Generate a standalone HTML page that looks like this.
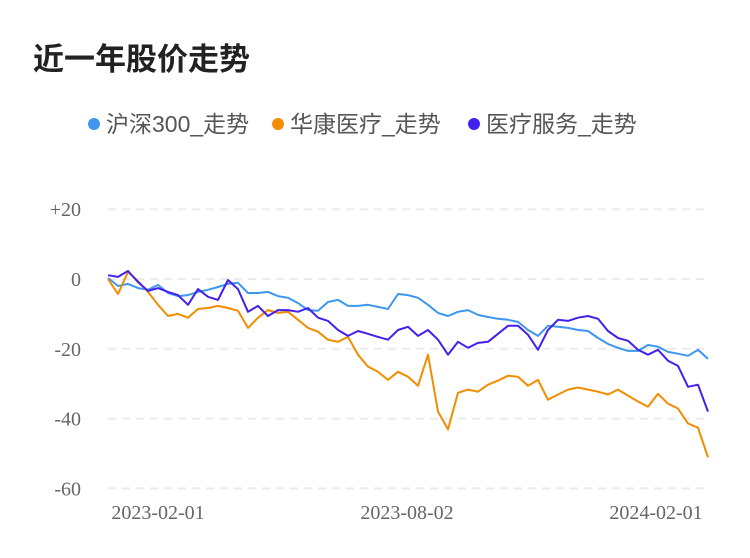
<!DOCTYPE html>
<html><head><meta charset="utf-8"><style>
body{margin:0;background:#fff;}
svg{display:block;font-family:"Liberation Serif","Noto Serif CJK SC",serif;}
.t{font-family:"Liberation Sans","Noto Sans CJK SC",sans-serif;}
</style></head><body>
<svg id="chart" width="750" height="558" viewBox="0 0 750 558">
<text class="t" x="33" y="70" font-size="31" font-weight="bold" fill="#222">近一年股价走势</text>
<g>
<g><circle cx="94" cy="124" r="6" fill="#3d97ee"/><text class="t" x="106" y="132" font-size="23" fill="#555">沪深300_走势</text></g>
<g><circle cx="278" cy="124" r="6" fill="#f28c00"/><text class="t" x="290" y="132" font-size="23" fill="#555">华康医疗_走势</text></g>
<g><circle cx="474" cy="124" r="6" fill="#4420ee"/><text class="t" x="486" y="132" font-size="23" fill="#555">医疗服务_走势</text></g>
</g>
<g id="grid"></g>
<g id="yaxis"></g>
<g id="xaxis"></g>
<g id="series"></g>
</svg>
<script>
const yTicks=[20,0,-20,-40,-60];
const yTickLabels=["+20","0","-20","-40","-60"];
const xTickIndex=[5,29.9,54.8];
const xTickLabels=["2023-02-01","2023-08-02","2024-02-01"];
const hs300=[0.3,-2.0,-1.4,-2.6,-3.1,-1.7,-4.0,-4.9,-4.6,-3.7,-3.1,-2.3,-1.4,-1.1,-4.0,-4.0,-3.7,-4.9,-5.4,-6.9,-8.9,-9.1,-6.6,-6.0,-7.7,-7.7,-7.4,-8.0,-8.6,-4.3,-4.6,-5.4,-7.4,-9.7,-10.6,-9.4,-8.9,-10.3,-10.9,-11.4,-11.7,-12.3,-14.6,-16.3,-13.4,-13.7,-14.0,-14.6,-14.9,-16.9,-18.6,-19.7,-20.6,-20.6,-18.9,-19.4,-20.9,-21.4,-22.0,-20.3,-22.9];
const huakang=[0,-4.3,2.0,-0.6,-3.7,-7.4,-10.6,-10.0,-11.1,-8.6,-8.3,-7.7,-8.3,-9.1,-14.0,-11.1,-8.9,-9.7,-9.4,-11.7,-14.0,-15.1,-17.4,-18.0,-16.6,-21.7,-25.1,-26.6,-28.9,-26.6,-28.0,-30.6,-21.7,-38.0,-43.1,-32.6,-31.7,-32.3,-30.3,-29.1,-27.7,-28.0,-30.6,-28.9,-34.6,-33.1,-31.7,-31.1,-31.7,-32.3,-33.1,-31.7,-33.4,-35.1,-36.6,-32.9,-35.7,-37.1,-41.4,-42.6,-51.1];
const medService=[1.1,0.6,2.3,-0.9,-3.4,-2.6,-3.7,-4.6,-7.4,-2.9,-5.1,-6.0,-0.3,-2.9,-9.4,-7.7,-10.6,-8.9,-8.9,-9.4,-8.3,-11.1,-12.0,-14.6,-16.3,-14.9,-15.7,-16.6,-17.4,-14.6,-13.7,-16.3,-14.6,-17.4,-21.7,-18.0,-19.7,-18.3,-18.0,-15.7,-13.4,-13.4,-16.0,-20.3,-14.6,-11.7,-12.0,-11.1,-10.6,-11.4,-14.9,-16.9,-17.7,-20.3,-21.7,-20.3,-23.4,-24.9,-30.9,-30.3,-38.0];
const NS="http://www.w3.org/2000/svg";
const x0=108,x1=708,n=hs300.length;
function xs(i){return x0+i*(x1-x0)/(n-1);}
function ys(v){return 279-v*3.49;}
function mk(tag,attrs,parent){const e=document.createElementNS(NS,tag);for(const k in attrs)e.setAttribute(k,attrs[k]);parent.appendChild(e);return e;}
const grid=document.getElementById('grid'),ya=document.getElementById('yaxis'),xa=document.getElementById('xaxis'),sg=document.getElementById('series');
yTicks.forEach((v,i)=>{
  const l=mk('line',{x1:108,x2:706,y1:ys(v),y2:ys(v),stroke:'#ebebeb','stroke-width':2,'stroke-dasharray':'8,6'},grid);
  
  
  const t=mk('text',{x:81,y:ys(v)+7,'text-anchor':'end','font-size':20,fill:'#666'},ya);
  t.textContent=yTickLabels[i];
  
  
});
xTickIndex.forEach((ix,i)=>{
  const t=mk('text',{x:xs(ix),y:519,'text-anchor':'middle','font-size':20,fill:'#666'},xa);
  t.textContent=xTickLabels[i];
  
  
});
[[hs300,'#3d97ee','line-hs300'],[huakang,'#f28c00','line-huakang'],[medService,'#4420ee','line-medical-service']].forEach(([d,c,nm])=>{
  const p=mk('path',{d:d.map((v,i)=>(i?'L':'M')+xs(i).toFixed(1)+','+ys(v).toFixed(1)).join(''),fill:'none',stroke:c,'stroke-width':2,'stroke-linejoin':'round'},sg);
  
  
});
</script>
</body></html>
